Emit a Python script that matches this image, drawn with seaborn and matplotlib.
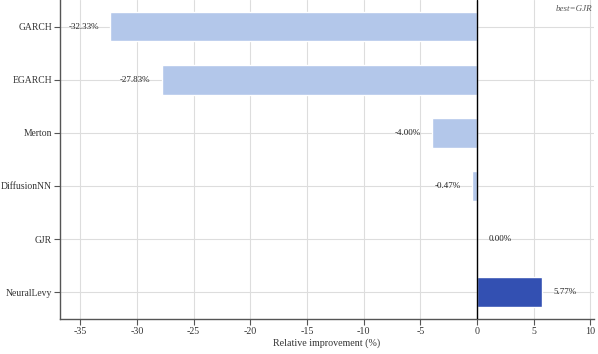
import numpy as np
import pandas as pd
import matplotlib
matplotlib.use("Agg")
import matplotlib.pyplot as plt
import seaborn as sns

# datos
models = ["GARCH", "EGARCH", "Merton", "DiffusionNN", "GJR", "NeuralLevy"]
improvement = [-32.33, -27.83, -4.00, -0.47, 0.00, 5.77]
best_model = "GJR"
top_model = "NeuralLevy"

df = pd.DataFrame({"model": models, "improvement": improvement})

sns.set_style("whitegrid")
plt.rcParams["font.family"] = ["Liberation Serif", "DejaVu Serif"]
plt.rcParams["axes.unicode_minus"] = False

light = "#b3c7ea"
dark = "#3350b2"
palette = {m: (dark if m == top_model else light) for m in models}

fig, ax = plt.subplots(figsize=(5.98, 3.54), dpi=100)
fig.subplots_adjust(left=0.1, right=0.993, top=0.999, bottom=0.1)

sns.barplot(
    data=df, x="improvement", y="model", hue="model",
    palette=palette, width=0.55, legend=False, ax=ax, saturation=1,
)

# linea vertical en cero
ax.axvline(0, color="black", lw=1, zorder=3)

# etiquetas de valores
for i, v in enumerate(improvement):
    if v < 0:
        ax.annotate(f"{v:.2f}%", (v, i), xytext=(-8, 0), textcoords="offset points",
                    ha="right", va="center", fontsize=6.5, color="#222222")
    else:
        ax.annotate(f"{v:.2f}%", (v, i), xytext=(8, 0), textcoords="offset points",
                    ha="left", va="center", fontsize=6.5, color="#222222")

ax.text(0.997, 0.985, f"best={best_model}", transform=ax.transAxes, ha="right", va="top",
        fontsize=6.5, style="italic", color="#555555")

ax.set_xlim(-36.8, 10.3)
ax.set_ylim(5.5, -0.5)
ax.set_xticks(np.arange(-35, 11, 5))
ax.set_xlabel("Relative improvement (%)", fontsize=7.2, labelpad=2, color="#333333")
ax.set_ylabel("")

ax.grid(True, axis="both", color="#dddddd", lw=0.8)
ax.set_axisbelow(True)
for s in ["top", "right"]:
    ax.spines[s].set_visible(False)
for s in ["left", "bottom"]:
    ax.spines[s].set_color("#555555")
    ax.spines[s].set_linewidth(1.0)
ax.tick_params(axis="x", labelsize=7.2, length=4, width=0.8, color="#555555",
               labelcolor="#333333", bottom=True, pad=2)
ax.tick_params(axis="y", labelsize=6.9, length=4, width=0.8, color="#555555",
               labelcolor="#333333", left=True, pad=1.5)

plt.savefig("out.png", dpi=100)
